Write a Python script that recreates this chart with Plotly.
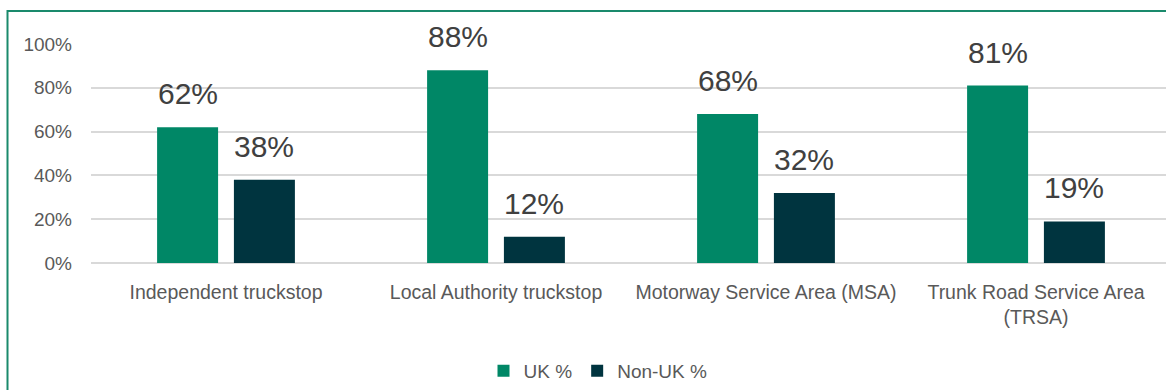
import plotly.graph_objects as go

# Share of drivers by nationality at each parking site type
categories = [
    "Independent truckstop",
    "Local Authority truckstop",
    "Motorway Service Area (MSA)",
    "Trunk Road Service Area<br>(TRSA)",
]
uk_pct = [62, 88, 68, 81]
non_uk_pct = [38, 12, 32, 19]
y_ticks = [0, 20, 40, 60, 80, 100]
y_tick_labels = [f"{v}%" for v in y_ticks]

UK_COLOR = "#008766"
NON_UK_COLOR = "#00343F"
FONT = "Liberation Sans, Arial, sans-serif"

W, H = 1166, 390
M_L, M_R, M_T, M_B = 91, 0, 44, 127
PLOT_W = W - M_L - M_R
PLOT_H = H - M_T - M_B
CAT_PX = 270  # pixel width of one category slot

fig = go.Figure()
fig.add_trace(go.Bar(name="UK %", x=categories, y=uk_pct, marker_color=UK_COLOR,
                     marker_line_width=0))
fig.add_trace(go.Bar(name="Non-UK %", x=categories, y=non_uk_pct, marker_color=NON_UK_COLOR,
                     marker_line_width=0))

# Value labels above each bar
offset = 38.4
for vals, sh in ((uk_pct, -offset), (non_uk_pct, offset)):
    for c, v in zip(categories, vals):
        fig.add_annotation(x=c, y=v, xref="x", yref="y", text=f"{v}%", showarrow=False,
                           xshift=sh, yanchor="bottom", yshift=15,
                           font=dict(family=FONT, size=30, color="#404040"))

# Outer frame of the chart
fig.add_shape(type="rect", xref="paper", yref="paper",
              x0=(7.5 - M_L) / PLOT_W, x1=1.5,
              y0=-1.5, y1=(H - M_B - 11) / PLOT_H,
              line=dict(color="#1A8A6C", width=2), fillcolor="rgba(0,0,0,0)", layer="above")

x_right = -0.5 + PLOT_W / CAT_PX

fig.update_layout(
    width=W, height=H,
    margin=dict(l=M_L, r=M_R, t=M_T, b=M_B),
    paper_bgcolor="white", plot_bgcolor="white",
    barmode="group", bargap=0.431, bargroupgap=0.206,
    font=dict(family=FONT, size=19, color="#595959"),
    showlegend=True,
    legend=dict(orientation="h", x=(598 - M_L) / PLOT_W, xanchor="center",
                y=(H - M_B - 371) / PLOT_H, yanchor="middle",
                font=dict(family=FONT, size=19, color="#595959"),
                itemwidth=30, traceorder="normal"),
    xaxis=dict(range=[-0.5, x_right], showgrid=False, showline=False, ticks="",
               tickfont=dict(family=FONT, size=19.5, color="#595959"), ticklabelstandoff=15),
    yaxis=dict(range=[0, 100], tickvals=y_ticks, ticktext=y_tick_labels,
               showgrid=True, gridcolor="#D9D9D9", gridwidth=1.5,
               zeroline=True, zerolinecolor="#D9D9D9", zerolinewidth=2,
               showline=False, ticks="", ticklabelstandoff=18,
               tickfont=dict(family=FONT, size=19, color="#595959")),
)

fig.write_html("out.html")
